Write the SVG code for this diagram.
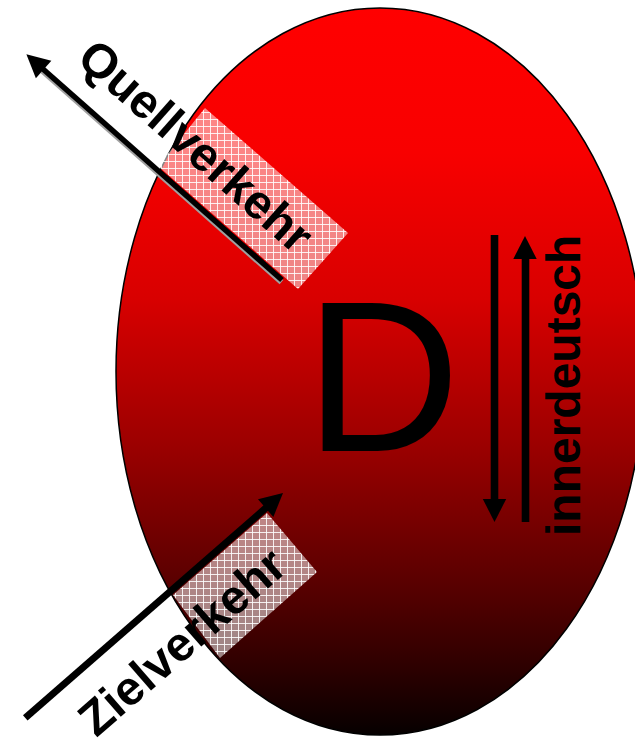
<svg xmlns="http://www.w3.org/2000/svg" width="635" height="743" viewBox="0 0 635 743">
  <defs>
    <linearGradient id="redGrad" x1="0" y1="0" x2="0" y2="1">
      <stop offset="0" stop-color="#ff0000"/>
      <stop offset="0.2" stop-color="#f80000"/>
      <stop offset="0.4" stop-color="#d80000"/>
      <stop offset="0.6" stop-color="#9c0000"/>
      <stop offset="0.8" stop-color="#560000"/>
      <stop offset="0.9" stop-color="#300000"/>
      <stop offset="1" stop-color="#060000"/>
    </linearGradient>
    <pattern id="grid" patternUnits="userSpaceOnUse" width="7" height="7">
      <rect width="7" height="7" fill="#ffffff" fill-opacity="0.52"/>
      <path d="M0 0.5 H7 M0.5 0 V7" stroke="#ffffff" stroke-opacity="0.85" stroke-width="1"/>
    </pattern>
  </defs>
  <style>
    .lbl { font-family: "Liberation Sans", Arial, sans-serif; font-weight: bold; font-size: 48px; fill: #000; }
    .big { font-family: "Liberation Sans", Arial, sans-serif; font-size: 215px; fill: #000; }
    .shaft { stroke: #000; fill: none; }
    .head { fill: #000; stroke: none; }
    .hatch { fill: url(#grid); stroke: none; }
  </style>

  <g id="land-D">
    <ellipse cx="380" cy="371.5" rx="264" ry="363.5" fill="url(#redGrad)" stroke="#000" stroke-width="1.5"/>
    <text class="big" x="305" y="451">D</text>
  </g>

  <g id="quellverkehr">
    <polygon class="hatch" points="205,108 348,233 298,289 158,166"/>
    <g transform="translate(282,280) rotate(41.44)">
      <text class="lbl" x="-300" y="-27">Quellverkehr</text>
    </g>
  </g>

  <g id="zielverkehr">
    <polygon class="hatch" points="173,595 267,513 317,572 220,658"/>
    <g transform="translate(283,493) rotate(-41.1)">
      <text class="lbl" x="-302" y="62">Zielverkehr</text>
    </g>
  </g>

  <g id="innerdeutsch">
    <g transform="translate(580,536) rotate(-90)">
      <text class="lbl" x="0" y="0">innerdeutsch</text>
    </g>
  </g>

  <g id="connectors">
    <g transform="translate(282,280) rotate(41.44)">
      <line x1="1" y1="2" x2="-318" y2="2" stroke="#a0a0a0" stroke-width="5.5"/>
      <line class="shaft" x1="0" y1="0" x2="-320" y2="0" stroke-width="5.5"/>
      <polygon class="head" points="-341,0 -318,-11.7 -318,11.7"/>
    </g>
    <g transform="translate(283,493) rotate(-41.1)">
      <line class="shaft" x1="-342" y1="0" x2="-20" y2="0" stroke-width="7"/>
      <polygon class="head" points="0,0 -23,-11.7 -23,11.7"/>
    </g>
    <line class="shaft" x1="494.5" y1="235" x2="494.5" y2="502" stroke-width="7.6"/>
    <polygon class="head" points="494.5,522 482.8,499 506.2,499"/>
    <line class="shaft" x1="525.5" y1="522" x2="525.5" y2="256" stroke-width="7.6"/>
    <polygon class="head" points="525,236 513.3,259 536.7,259"/>
  </g>
</svg>
